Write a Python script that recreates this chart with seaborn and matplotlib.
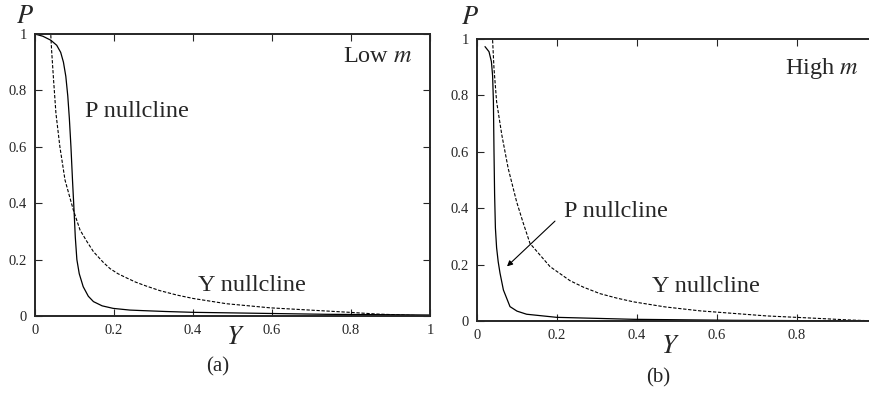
import numpy as np
import pandas as pd
import matplotlib
matplotlib.use("Agg")
import matplotlib.pyplot as plt
import seaborn as sns

# panel (a): low m
a_p_y = [0.0, 0.02, 0.04, 0.055, 0.065, 0.072, 0.078, 0.083, 0.087, 0.091, 0.095, 0.099, 0.102,
         0.106, 0.112, 0.122, 0.135, 0.148, 0.17, 0.198, 0.24, 0.274, 0.33, 0.401, 0.5, 0.57,
         0.738, 0.85, 1.0]
a_p_p = [1.0, 0.992, 0.978, 0.96, 0.935, 0.9, 0.85, 0.78, 0.7, 0.6, 0.48, 0.37, 0.28,
         0.2, 0.15, 0.104, 0.07, 0.051, 0.036, 0.027, 0.021, 0.019, 0.016, 0.013, 0.011, 0.0095,
         0.006, 0.005, 0.0035]
a_y_y = [0.040, 0.042, 0.047, 0.053, 0.063, 0.076, 0.097, 0.114, 0.131, 0.148, 0.173, 0.19,
         0.21, 0.232, 0.255, 0.28, 0.316, 0.36, 0.401, 0.485, 0.595, 0.696, 0.797, 0.865,
         0.949, 1.0]
a_y_p = [0.996, 0.943, 0.837, 0.719, 0.6, 0.482, 0.376, 0.305, 0.265, 0.228, 0.19, 0.168,
         0.15, 0.135, 0.12, 0.107, 0.09, 0.074, 0.062, 0.0435, 0.029, 0.021, 0.013, 0.007,
         0.0025, 0.0]

# panel (b): high m
b_p_y = [0.02, 0.03, 0.036, 0.039, 0.041, 0.0425, 0.044, 0.046, 0.049, 0.053, 0.0575, 0.066,
         0.0825, 0.1, 0.124, 0.199, 0.391, 0.641, 1.0]
b_p_p = [0.973, 0.955, 0.92, 0.87, 0.78, 0.6, 0.45, 0.33, 0.26, 0.21, 0.17, 0.11,
         0.051, 0.035, 0.024, 0.013, 0.006, 0.0025, 0.0]
b_y_y = [0.039, 0.0425, 0.049, 0.062, 0.078, 0.099, 0.115, 0.1325, 0.1825, 0.2325, 0.266,
         0.3075, 0.35, 0.391, 0.47, 0.5575, 0.724, 0.849, 0.9325, 1.0]
b_y_p = [0.996, 0.895, 0.778, 0.66, 0.541, 0.423, 0.35, 0.275, 0.193, 0.143, 0.12,
         0.097, 0.081, 0.068, 0.05, 0.036, 0.018, 0.0095, 0.0035, 0.0]

ticks = [0, 0.2, 0.4, 0.6, 0.8, 1]
tick_labels = ["0", "0.2", "0.4", "0.6", "0.8", "1"]

sns.set_style("ticks")
plt.rcParams["font.family"] = ["Liberation Serif", "DejaVu Serif"]
plt.rcParams["mathtext.fontset"] = "stix"

fig = plt.figure(figsize=(8.69, 3.93), dpi=100)
ax_a = fig.add_axes([35 / 869, 1 - 316 / 393, 395 / 869, 282 / 393])
ax_b = fig.add_axes([477 / 869, 1 - 321 / 393, 400 / 869, 282 / 393])


def draw(ax, py, pp, yy, yp, nx):
    sns.lineplot(data=pd.DataFrame({"Y": py, "P": pp}), x="Y", y="P", ax=ax,
                 color="black", lw=0.9, sort=False, estimator=None)
    sns.lineplot(data=pd.DataFrame({"Y": yy, "P": yp}), x="Y", y="P", ax=ax,
                 color="black", lw=0.8, sort=False, estimator=None,
                 linestyle=(0, (3, 1.5)))
    ax.set_xlim(0, 1)
    ax.set_ylim(0, 1)
    ax.set_xticks(ticks[:nx])
    ax.set_xticklabels(tick_labels[:nx])
    ax.set_yticks(ticks)
    ax.set_yticklabels(tick_labels)
    ax.tick_params(direction="in", top=True, right=True, length=5,
                   width=0.8, labelsize=10.5, pad=6)
    for s in ax.spines.values():
        s.set_linewidth(1.4)
        s.set_visible(True)
    ax.set_xlabel("")
    ax.set_ylabel("")


draw(ax_a, a_p_y, a_p_p, a_y_y, a_y_p, 6)
draw(ax_b, b_p_y, b_p_p, b_y_y, b_y_p, 5)

# panel (a) annotations
ax_a.text(0.127, 0.726, "P nullcline", fontsize=17.5, va="center")
ax_a.text(0.413, 0.109, "Y nullcline", fontsize=17.5, va="center")
ax_a.text(0.78, 0.92, "Low $m$", fontsize=17.5, va="center")
ax_a.text(-0.025, 1.06, "$P$", fontsize=19, ha="center", va="center", transform=ax_a.transAxes)
ax_a.text(0.506, -0.078, "$Y$", fontsize=19, ha="center", va="center", transform=ax_a.transAxes)
ax_a.text(0.463, -0.181, "(a)", fontsize=15, ha="center", va="center", transform=ax_a.transAxes)

# panel (b) annotations
ax_b.annotate("", xy=(0.07, 0.187), xytext=(0.2, 0.361),
              arrowprops=dict(arrowstyle="-|>", color="black", lw=0.8,
                              mutation_scale=8))
ax_b.text(0.218, 0.388, "P nullcline", fontsize=17.5, va="center")
ax_b.text(0.437, 0.122, "Y nullcline", fontsize=17.5, va="center")
ax_b.text(0.771, 0.897, "High $m$", fontsize=17.5, va="center")
ax_b.text(-0.0175, 1.075, "$P$", fontsize=19, ha="center", va="center", transform=ax_b.transAxes)
ax_b.text(0.4825, -0.092, "$Y$", fontsize=19, ha="center", va="center", transform=ax_b.transAxes)
ax_b.text(0.4525, -0.202, "(b)", fontsize=15, ha="center", va="center", transform=ax_b.transAxes)

fig.savefig("out.png", dpi=100)
